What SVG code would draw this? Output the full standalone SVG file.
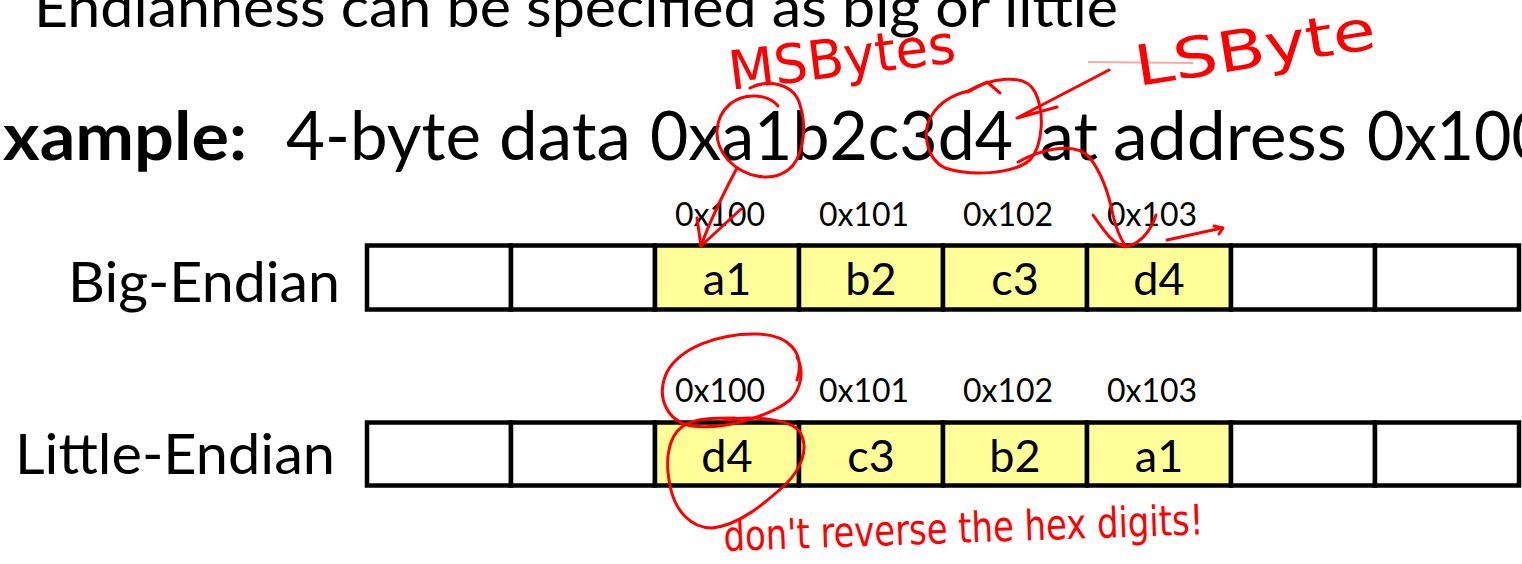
<svg xmlns="http://www.w3.org/2000/svg" width="1522" height="564" viewBox="0 0 1522 564">
<style>
.t{font-family:Lato,"Open Sans","Liberation Sans",sans-serif;fill:#000}
.h1{font-size:57px}
.h2{font-size:67px}
.lbl{font-size:56px}
.addr{font-size:32px;text-anchor:middle}
.val{font-size:45px;text-anchor:middle}
.cell{stroke:#000;stroke-width:4.5}
.w{fill:#fff}
.y{fill:#ffff99}
.ink{fill:none;stroke:#ff0000;stroke-width:3;stroke-linecap:round;stroke-linejoin:round}
.hw{font-family:"Liberation Sans Narrow","DejaVu Sans Condensed","Liberation Sans",sans-serif;fill:#ff0000}
</style>
<rect width="1522" height="564" fill="#fff"/>
<g id="heading">
<text class="t h1" x="34" y="27" textLength="1084" lengthAdjust="spacingAndGlyphs">Endianness can be specified as big or little</text>
<text class="t h2" y="160"><tspan x="3" font-weight="bold" textLength="244" lengthAdjust="spacingAndGlyphs">xample:</tspan><tspan>  </tspan><tspan x="286" textLength="195" lengthAdjust="spacingAndGlyphs">4-byte</tspan><tspan> </tspan><tspan x="499" textLength="132" lengthAdjust="spacingAndGlyphs">data</tspan><tspan> </tspan><tspan x="650" textLength="363" lengthAdjust="spacingAndGlyphs">0xa1b2c3d4</tspan><tspan> </tspan><tspan x="1040" textLength="58" lengthAdjust="spacingAndGlyphs">at</tspan><tspan> </tspan><tspan x="1113" textLength="234" lengthAdjust="spacingAndGlyphs">address</tspan><tspan> </tspan><tspan x="1367" textLength="182" lengthAdjust="spacingAndGlyphs">0x100</tspan></text>
</g>
<g id="big-endian">
<text class="t lbl" x="68" y="302" textLength="272" lengthAdjust="spacingAndGlyphs">Big-Endian</text>
<rect class="cell w" x="367" y="245.5" width="144" height="64"/>
<rect class="cell w" x="511" y="245.5" width="144" height="64"/>
<rect class="cell y" x="655" y="245.5" width="144" height="64"/>
<rect class="cell y" x="799" y="245.5" width="144" height="64"/>
<rect class="cell y" x="943" y="245.5" width="144" height="64"/>
<rect class="cell y" x="1087" y="245.5" width="144" height="64"/>
<rect class="cell w" x="1231" y="245.5" width="144" height="64"/>
<rect class="cell w" x="1375" y="245.5" width="144" height="64"/>
<text class="t addr" x="720" y="226">0x100</text>
<text class="t addr" x="864" y="226">0x101</text>
<text class="t addr" x="1008" y="226">0x102</text>
<text class="t addr" x="1152" y="226">0x103</text>
<text class="t val" x="727" y="295">a1</text>
<text class="t val" x="871" y="295">b2</text>
<text class="t val" x="1015" y="295">c3</text>
<text class="t val" x="1159" y="295">d4</text>
</g>
<g id="little-endian">
<text class="t lbl" x="15" y="474" textLength="320" lengthAdjust="spacingAndGlyphs">Little-Endian</text>
<rect class="cell w" x="367" y="422.5" width="144" height="63"/>
<rect class="cell w" x="511" y="422.5" width="144" height="63"/>
<rect class="cell y" x="655" y="422.5" width="144" height="63"/>
<rect class="cell y" x="799" y="422.5" width="144" height="63"/>
<rect class="cell y" x="943" y="422.5" width="144" height="63"/>
<rect class="cell y" x="1087" y="422.5" width="144" height="63"/>
<rect class="cell w" x="1231" y="422.5" width="144" height="63"/>
<rect class="cell w" x="1375" y="422.5" width="144" height="63"/>
<text class="t addr" x="720" y="402">0x100</text>
<text class="t addr" x="864" y="402">0x101</text>
<text class="t addr" x="1008" y="402">0x102</text>
<text class="t addr" x="1152" y="402">0x103</text>
<text class="t val" x="727" y="472">d4</text>
<text class="t val" x="871" y="472">c3</text>
<text class="t val" x="1015" y="472">b2</text>
<text class="t val" x="1159" y="472">a1</text>
</g>
<g id="annotations">
<text class="hw" x="731" y="90" font-size="54" textLength="228" lengthAdjust="spacingAndGlyphs" transform="rotate(-7 731 90)">MSBytes</text>
<text class="hw" x="1138" y="86" font-size="56" textLength="243" lengthAdjust="spacingAndGlyphs" transform="rotate(-9 1138 86)">LSByte</text>
<text class="hw" x="724" y="551" font-size="42" textLength="480" lengthAdjust="spacingAndGlyphs" transform="rotate(-2 724 551)">don't reverse the hex digits!</text>
<path d="M1088,62 L1193,63" stroke="#ff0000" stroke-opacity="0.35" stroke-width="2" fill="none"/>
</g>
<g id="connectors">
<path class="ink" d="M750,88 C770,78 795,85 800,105 C808,130 802,160 788,170 C772,182 745,178 728,160 C712,142 714,118 730,104 C745,92 768,94 778,106"/>
<path class="ink" d="M737,168 C728,185 712,215 701,246"/>
<path class="ink" d="M697,218 L701,246 L741,209"/>
<path class="ink" d="M966,92 C990,78 1025,72 1035,92 C1045,112 1043,145 1030,160 C1012,175 970,176 945,168 C925,158 922,130 932,115 C940,102 952,95 968,91"/>
<path class="ink" d="M968,92 L987,82 L1000,93"/>
<path class="ink" d="M1018,162 C1040,150 1075,140 1090,158 C1103,175 1110,200 1113,215 C1116,228 1120,238 1125,245"/>
<path class="ink" d="M1093,215 C1105,232 1115,248 1128,246 C1142,243 1152,228 1156,215"/>
<path class="ink" d="M1167,240 L1222,228 M1214,226 L1223,228 L1219,234"/>
<path class="ink" d="M1109,70 L1017,118 L1057,107"/>
<path class="ink" d="M797,380 C806,352 788,335 758,334 C718,333 680,348 667,372 C655,398 668,422 692,426 C725,430 770,416 790,400 C802,388 804,370 797,357"/>
<path class="ink" d="M725,420 C750,416 790,418 800,432 C810,450 800,470 785,485 C765,503 740,525 712,528 C690,528 676,510 671,490 C665,465 666,438 683,426 C695,418 715,418 735,418"/>
</g>
</svg>
